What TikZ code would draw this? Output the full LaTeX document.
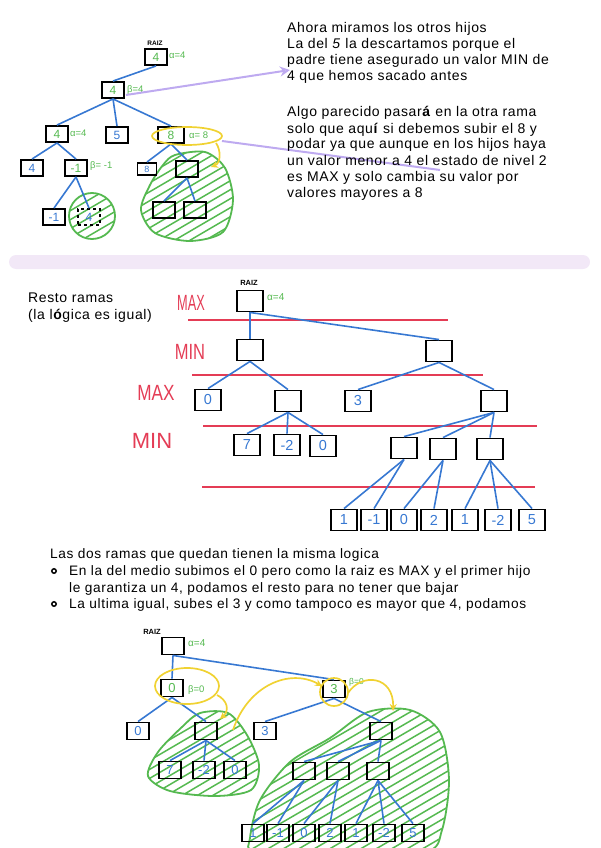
\documentclass[tikz,border=0pt]{standalone}
\usepackage{fontspec}
\setmainfont{Liberation Sans}
\newfontfamily\notefont{Liberation Sans}[LetterSpace=4.5]
\usetikzlibrary{arrows.meta}
\definecolor{tblue}{RGB}{55,120,210}
\definecolor{tgreen}{RGB}{85,185,80}
\definecolor{tyellow}{RGB}{240,210,50}
\definecolor{tred}{RGB}{228,60,85}
\definecolor{tlilac}{RGB}{190,170,240}
\definecolor{tbar}{RGB}{242,232,247}
\begin{document}
\begin{tikzpicture}[x=1pt,y=-1pt,
 box/.style={draw=black,line width=1.9pt,minimum width=22pt,minimum height=16pt,inner sep=0pt,font=\fontsize{12}{12}\selectfont},
 mbox/.style={box,minimum width=26pt,minimum height=21pt,font=\fontsize{14.5}{14.5}\selectfont},
 bbox/.style={box,minimum width=22pt,minimum height=17pt,font=\fontsize{13}{13}\selectfont},
 bl/.style={text=tblue}, gr/.style={text=tgreen},
 edge/.style={draw=tblue,line width=1.6pt},
 note/.style={anchor=base west,inner sep=0pt,font=\notefont\fontsize{14}{16}\selectfont},
 bnote/.style={note,font=\notefont\fontsize{13.7}{16}\selectfont},
 ann/.style={text=tgreen,font=\fontsize{9.5}{9.5}\selectfont,inner sep=0pt,anchor=west},
 raiz/.style={font=\bfseries\fontsize{6.5}{6.5}\selectfont,inner sep=0pt},
 lvl/.style={text=tred,inner sep=0pt,font=\fontsize{22}{22}\selectfont},
 rline/.style={draw=tred,line width=1.5pt},
 outline/.style={draw=tgreen,line width=1.8pt},
 hl/.style={draw=tgreen,line width=1.5pt},
 yel/.style={draw=tyellow,line width=1.7pt},
 lil/.style={draw=tlilac,line width=2pt},
]
\useasboundingbox (0,0) rectangle (600,848);

% ================= TOP TREE hatched regions =================
\begin{scope}
\clip plot[smooth cycle] coordinates {(175,155) (205,152) (225,168) (233,200) (223,232) (190,241) (155,233) (141,210) (150,185) (163,165)};
\foreach \k in {-90,-81,...,90} \draw[hl] (127,197+\k+35) -- (247,197+\k-35);
\end{scope}
\draw[outline] plot[smooth cycle] coordinates {(175,155) (205,152) (225,168) (233,200) (223,232) (190,241) (155,233) (141,210) (150,185) (163,165)};
\begin{scope}
\clip (92,216) circle (23);
\foreach \k in {-45,-36,...,45} \draw[hl] (62,216+\k+17.5) -- (122,216+\k-17.5);
\end{scope}
\draw[outline] (92,216) circle (23);

\node[raiz] (tr) at (155,43) {RAIZ};
\node[box,gr] (t0) at (156,57) {4};
\node[ann] (ta0) at (169,55) {α=4};
\node[box,gr] (t1) at (113,90) {4};
\node[ann] (ta1) at (127,90) {β=4};
\node[box,gr] (t2a) at (57,134) {4};
\node[ann] (ta2) at (70,133) {α=4};
\node[box,bl] (t2b) at (117,135) {5};
\node[box,gr,minimum width=26pt] (t2c) at (171,135) {8};
\node[ann] (ta3) at (189,135) {α= 8};
\node[box,bl] (t3a) at (32,168) {4};
\node[box,gr] (t3b) at (76,168) {-1};
\node[ann] (ta4) at (90,166) {β= -1};
\node[box,bl,minimum width=19pt,minimum height=12pt,font=\fontsize{9}{9}\selectfont] (t3c) at (147,169) {8};
\node[box] (t3d) at (187,169) {};
\node[box,bl] (t4a) at (54,217) {-1};
\node[box,dashed,bl] (t4b) at (89,217) {4};
\node[box] (t4c) at (164,210) {};
\node[box] (t4d) at (195,210) {};

\draw[edge] (t0.south) -- (t1.north);
\draw[edge] (t1.south) -- (t2a.north);
\draw[edge] (t1.south) -- (t2b.north);
\draw[edge] (t1.south) -- (t2c.north);
\draw[edge] (t2a.south) -- (t3a.north);
\draw[edge] (t2a.south) -- (t3b.north);
\draw[edge] (t3b.south) -- (t4a.north);
\draw[edge] (t3b.south) -- (t4b.north);
\draw[edge] (t2c.south) -- (t3c.north);
\draw[edge] (t2c.south) -- (t3d.north);
\draw[edge] (t3d.south) -- (t4c.north);
\draw[edge] (t3d.south) -- (t4d.north);

\draw[yel] (187,136) ellipse [x radius=35, y radius=9];
\draw[yel,-{Stealth[length=7pt,width=7pt]}] (216,143) .. controls (221,150) and (221,163) .. (211,167);

\coordinate (pa) at (126,95);
\coordinate (pb) at (290,70);
\coordinate (pc) at (222,141);
\coordinate (pd) at (440,170);
\draw[lil,-{Stealth[length=10pt,width=10pt,open]}] (pa) -- (pb);
\draw[lil] (pc) -- (pd);

% top text
\node[note] (n1) at (287,33) {Ahora miramos los otros hijos};
\node[note] (n2) at (287,49) {La del \textit{5} la descartamos porque el};
\node[note] (n3) at (287,65) {padre tiene asegurado un valor MIN de};
\node[note] (n4) at (287,81) {4 que hemos sacado antes};
\node[note] (n5) at (287,117) {Algo parecido pasar\textbf{á} en la otra rama};
\node[note] (n6) at (287,133) {solo que aqu\textbf{í} si debemos subir el 8 y};
\node[note] (n7) at (287,149) {podar ya que aunque en los hijos haya};
\node[note] (n8) at (287,165) {un valor menor a 4 el estado de nivel 2};
\node[note] (n9) at (287,181) {es MAX y solo cambia su valor por};
\node[note] (n10) at (287,197) {valores mayores a 8};

% separator
\fill[tbar,rounded corners=7pt] (9,255) rectangle (590,269);

% ================= MIDDLE TREE =================
\node[note] (r1) at (28,302) {Resto ramas};
\node[note] (r2) at (28,319) {(la l\textbf{ó}gica es igual)};

\draw[rline] (188,320) -- (448,320);
\draw[rline] (192,375) -- (483,375);
\draw[rline] (203,426) -- (537,426);
\draw[rline] (202,487) -- (535,487);
\node[lvl,xscale=0.58] (lv1) at (191,303) {MAX};
\node[lvl,xscale=0.75] (lv2) at (190,352) {MIN};
\node[lvl,xscale=0.78] (lv3) at (156,393) {MAX};
\node[lvl,xscale=1.0] (lv4) at (152,441) {MIN};

\node[raiz,font=\bfseries\fontsize{7.5}{7.5}\selectfont] (mr) at (249,283) {RAIZ};
\node[mbox] (m0) at (250,301) {};
\node[ann,font=\fontsize{10}{10}\selectfont] (ma0) at (267,297) {α=4};
\node[mbox] (m1) at (250,350) {};
\node[mbox] (m2) at (439,351) {};
\node[mbox,bl] (m3) at (208,400) {0};
\node[mbox] (m4) at (288,401) {};
\node[mbox,bl] (m5) at (358,401) {3};
\node[mbox] (m6) at (494,401) {};
\node[mbox,bl] (m7) at (247,445) {7};
\node[mbox,bl] (m8) at (287,445) {-2};
\node[mbox,bl] (m9) at (323,446) {0};
\node[mbox] (m10) at (404,448) {};
\node[mbox] (m11) at (443,449) {};
\node[mbox] (m12) at (490,449) {};
\node[mbox,bl] (ml1) at (344,520) {1};
\node[mbox,bl] (ml2) at (374,520) {-1};
\node[mbox,bl] (ml3) at (404,520) {0};
\node[mbox,bl] (ml4) at (434,520) {2};
\node[mbox,bl] (ml5) at (465,520) {1};
\node[mbox,bl] (ml6) at (498,520) {-2};
\node[mbox,bl] (ml7) at (532,520) {5};

\draw[edge] (m0.south) -- (m1.north);
\draw[edge] (m0.south) -- (m2.north);
\draw[edge] (m1.south) -- (m3.north);
\draw[edge] (m1.south) -- (m4.north);
\draw[edge] (m2.south) -- (m5.north);
\draw[edge] (m2.south) -- (m6.north);
\draw[edge] (m4.south) -- (m7.north);
\draw[edge] (m4.south) -- (m8.north);
\draw[edge] (m4.south) -- (m9.north);
\draw[edge] (m6.south) -- (m10.north);
\draw[edge] (m6.south) -- (m11.north);
\draw[edge] (m6.south) -- (m12.north);
\draw[edge] (m10.south) -- (ml1.north);
\draw[edge] (m10.south) -- (ml2.north);
\draw[edge] (m11.south) -- (ml3.north);
\draw[edge] (m11.south) -- (ml4.north);
\draw[edge] (m12.south) -- (ml5.north);
\draw[edge] (m12.south) -- (ml6.north);
\draw[edge] (m12.south) -- (ml7.north);

% bottom text
\node[bnote] (s1) at (50,558) {Las dos ramas que quedan tienen la misma logica};
\draw[line width=1.5pt] (54,571) circle (2.2);
\node[bnote] (s2) at (69,575) {En la del medio subimos el 0 pero como la raiz es MAX y el primer hijo};
\node[bnote] (s3) at (69,592) {le garantiza un 4, podamos el resto para no tener que bajar};
\draw[line width=1.5pt] (54,604) circle (2.2);
\node[bnote] (s4) at (69,608) {La ultima igual, subes el 3 y como tampoco es mayor que 4, podamos};

% ================= BOTTOM TREE hatched regions =================
\begin{scope}
\clip plot[smooth cycle] coordinates {(200,713) (228,713) (247,735) (259,765) (251,790) (215,796) (170,791) (148,776) (158,752) (182,727)};
\foreach \k in {-90,-81,...,90} \draw[hl] (140,755+\k+38) -- (270,755+\k-38);
\end{scope}
\draw[outline] plot[smooth cycle] coordinates {(200,713) (228,713) (247,735) (259,765) (251,790) (215,796) (170,791) (148,776) (158,752) (182,727)};
\begin{scope}
\clip plot[smooth cycle] coordinates {(250,838) (260,800) (290,762) (330,738) (368,712) (410,710) (440,732) (449,780) (442,830) (425,852) (330,856) (255,852)};
\foreach \k in {-162,-153,...,162} \draw[hl] (240,783+\k+64) -- (460,783+\k-64);
\end{scope}
\draw[outline] plot[smooth cycle] coordinates {(250,838) (260,800) (290,762) (330,738) (368,712) (410,710) (440,732) (449,780) (442,830) (425,852) (330,856) (255,852)};

\node[raiz,font=\bfseries\fontsize{7.5}{7.5}\selectfont] (br) at (152,632) {RAIZ};
\node[bbox] (b0) at (173,646) {};
\node[ann,font=\fontsize{10}{10}\selectfont] (ba0) at (188,643) {α=4};
\node[bbox,gr] (b1) at (172,688) {0};
\node[ann] (ba1) at (188,690) {β=0};
\node[bbox,bl] (b2) at (138,731) {0};
\node[bbox] (b3) at (206,731) {};
\node[bbox,bl] (b4) at (170,770) {7};
\node[bbox,bl] (b5) at (204,770) {-2};
\node[bbox,bl] (b6) at (235,770) {0};
\node[bbox,gr] (b7) at (334,689) {3};
\node[ann,font=\fontsize{8.5}{8.5}\selectfont] (ba7) at (349,682) {β=0};
\node[bbox,bl] (b8) at (265,731) {3};
\node[bbox] (b9) at (381,731) {};
\node[bbox] (b10) at (304,771) {};
\node[bbox] (b11) at (338,771) {};
\node[bbox] (b12) at (378,771) {};
\node[bbox,bl] (bl1) at (253,833) {1};
\node[bbox,bl] (bl2) at (278,833) {-1};
\node[bbox,bl] (bl3) at (304,833) {0};
\node[bbox,bl] (bl4) at (330,833) {2};
\node[bbox,bl] (bl5) at (356,833) {1};
\node[bbox,bl] (bl6) at (384,833) {-2};
\node[bbox,bl] (bl7) at (413,833) {5};

\draw[edge] (b0.south) -- (b1.north);
\draw[edge] (b0.south) -- (b7.north);
\draw[edge] (b1.south) -- (b2.north);
\draw[edge] (b1.south) -- (b3.north);
\draw[edge] (b3.south) -- (b4.north);
\draw[edge] (b3.south) -- (b5.north);
\draw[edge] (b3.south) -- (b6.north);
\draw[edge] (b7.south) -- (b8.north);
\draw[edge] (b7.south) -- (b9.north);
\draw[edge] (b9.south) -- (b10.north);
\draw[edge] (b9.south) -- (b11.north);
\draw[edge] (b9.south) -- (b12.north);
\draw[edge] (b10.south) -- (bl1.north);
\draw[edge] (b10.south) -- (bl2.north);
\draw[edge] (b11.south) -- (bl3.north);
\draw[edge] (b11.south) -- (bl4.north);
\draw[edge] (b12.south) -- (bl5.north);
\draw[edge] (b12.south) -- (bl6.north);
\draw[edge] (b12.south) -- (bl7.north);

\draw[yel] (187,686) ellipse [x radius=32, y radius=18];
\draw[yel] (334,692) circle (14);
\draw[yel,-{Stealth[length=7pt,width=7pt]}] (217,695) .. controls (227,700) and (230,710) .. (220,719);
\draw[yel,-{Stealth[length=7pt,width=7pt]}] (233,730) .. controls (248,685) and (290,668) .. (322,686);
\draw[yel,-{Stealth[length=7pt,width=7pt]}] (348,693) .. controls (362,672) and (394,676) .. (393,711);
\end{tikzpicture}
\end{document}
